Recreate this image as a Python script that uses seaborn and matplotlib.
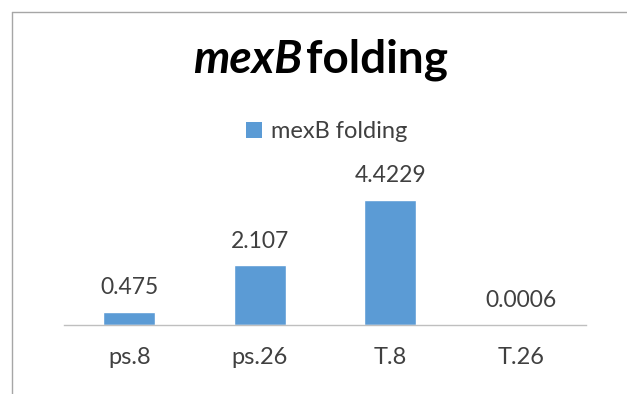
import matplotlib
matplotlib.use("Agg")
import matplotlib.pyplot as plt
import seaborn as sns
import pandas as pd
from matplotlib.lines import Line2D
from matplotlib.patches import Patch

categories = ["ps.8", "ps.26", "T.8", "T.26"]
values = [0.475, 2.107, 4.4229, 0.0006]
value_labels = ["0.475", "2.107", "4.4229", "0.0006"]
series_name = "mexB folding"

sns.set_theme(style="white")
plt.rcParams['font.family'] = ['Lato', 'DejaVu Sans']

df = pd.DataFrame({"cat": categories, "val": values})
fig = plt.figure(figsize=(6.27, 3.94), dpi=100)
ax = fig.add_axes([0.1021, 0.1751, 0.8325, 0.3587])
sns.barplot(data=df, x="cat", y="val", color="#5B9BD5", width=0.4, saturation=1, ax=ax)
ax.set_ylim(0, 5)
ax.set_xlim(-0.5, 3.5)
for s in ["top", "right", "left"]:
    ax.spines[s].set_visible(False)
ax.spines["bottom"].set_color("#BFBFBF")
ax.spines["bottom"].set_linewidth(1.0)
ax.set_yticks([])
ax.set_xlabel("")
ax.set_ylabel("")
ax.tick_params(axis="x", length=0, pad=16, labelsize=17, labelcolor="#404040")
ax.bar_label(ax.containers[0], labels=value_labels, padding=10, fontsize=16.5, color="#404040")

# legend
ax.legend(handles=[Patch(facecolor="#5B9BD5", edgecolor="none")], labels=[series_name],
          loc="center", bbox_to_anchor=(327 / 627, 1 - 132 / 394), bbox_transform=fig.transFigure,
          frameon=False, fontsize=17, handlelength=0.65, handleheight=0.65, handletextpad=0.4,
          labelcolor="#404040")

# title
t1 = fig.text(193 / 627, 1 - 60 / 394, "mexB", fontsize=33, fontweight="bold", fontstyle="italic",
              ha="left", va="center", color="#000000")
ax.annotate("folding", xy=(1, 0.5), xycoords=t1, xytext=(3, 0), textcoords="offset points",
            fontsize=33, fontweight="bold", ha="left", va="center", color="#000000",
            annotation_clip=False)

# chart border
fig.add_artist(Line2D([12 / 627, 12 / 627], [0, 1 - 12 / 394], color="#A6A6A6", lw=1, transform=fig.transFigure))
fig.add_artist(Line2D([12 / 627, 1], [1 - 12 / 394, 1 - 12 / 394], color="#A6A6A6", lw=1, transform=fig.transFigure))

fig.savefig("out.png", dpi=100)
